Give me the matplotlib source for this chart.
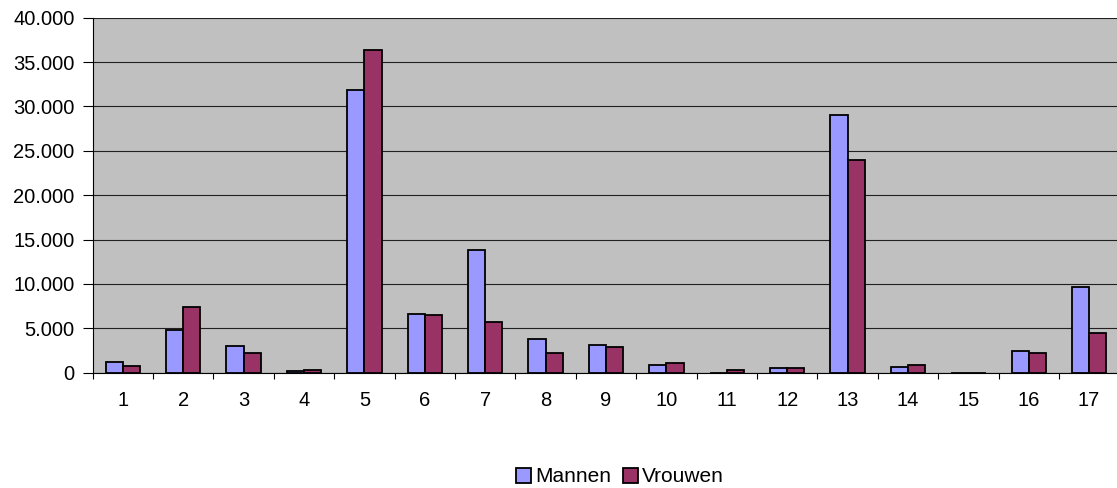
#!/usr/bin/env python3

import matplotlib.pyplot as plt
import numpy as np
from matplotlib.ticker import FuncFormatter, MultipleLocator

categories = [str(i) for i in range(1, 18)]
mannen = [1200, 4850, 3000, 150, 31800, 6650, 13850, 3800, 3150, 900,
          0, 560, 29000, 680, 0, 2450, 9700]
vrouwen = [750, 7450, 2250, 250, 36400, 6450, 5700, 2200, 2900, 1100,
           350, 560, 23950, 830, 0, 2200, 4450]


def dot_thousands(v, pos):
    return "{:,.0f}".format(v).replace(",", ".")


plt.rcParams.update({
    "font.family": "Liberation Sans",
    "font.size": 14.5,
})

fig = plt.figure(figsize=(11.17, 4.88), dpi=100)
ax = fig.add_axes([92.7 / 1117, 1 - 372.7 / 488, 1026.6 / 1117, 355 / 488])
ax.set_facecolor("#C0C0C0")

x = np.arange(len(categories))
width = 0.285
ax.bar(x - width / 2, mannen, width, color="#9999FF", edgecolor="black",
       linewidth=1.3, label="Mannen", zorder=3)
ax.bar(x + width / 2, vrouwen, width, color="#993366", edgecolor="black",
       linewidth=1.3, label="Vrouwen", zorder=3)

ax.set_xlim(-0.5, len(categories) - 0.5)
ax.set_ylim(0, 40000)
ax.yaxis.set_major_locator(MultipleLocator(5000))
ax.yaxis.set_major_formatter(FuncFormatter(dot_thousands))
ax.grid(axis="y", color="#202020", linewidth=0.8, zorder=1)

ax.set_xticks(x, categories)
ax.set_xticks(np.arange(-0.5, len(categories)), minor=True)
ax.tick_params(axis="x", which="major", length=0, pad=13)
ax.tick_params(axis="x", which="minor", length=4.5, width=0.8)
ax.tick_params(axis="y", length=7, width=0.8, pad=6)

for side in ["top", "right"]:
    ax.spines[side].set_visible(False)
ax.spines["left"].set_linewidth(0.8)
ax.spines["bottom"].set_linewidth(0.8)

fig.legend(loc="center", bbox_to_anchor=(620 / 1117, 1 - 477 / 488), ncols=2,
           frameon=False, handlelength=0.7, handleheight=0.7,
           handletextpad=0.2, columnspacing=0.6, fontsize=15,
           borderpad=0.1)

plt.savefig("out.png", dpi=100)
